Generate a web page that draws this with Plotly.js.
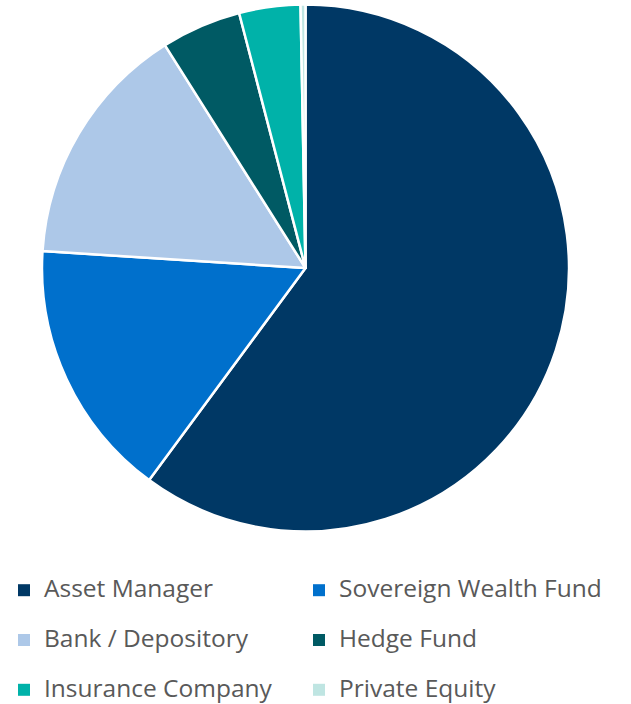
<!DOCTYPE html>
<html>
<head>
<meta charset="utf-8">
<script src="https://cdn.plot.ly/plotly-3.0.1.min.js"></script>
<style>html,body{margin:0;padding:0;background:#fff;}#chart{width:631px;height:704px;}</style>
</head>
<body>
<div id="chart"></div>
<script>
const categories = ["Asset Manager", "Sovereign Wealth Fund", "Bank / Depository", "Hedge Fund", "Insurance Company", "Private Equity"];
const shares = [60.05, 15.9, 15.0, 4.9, 3.75, 0.3];
const sliceColors = ["#003865", "#0070CC", "#ADC8E8", "#005A64", "#00B2A9", "#BFE5E2"];

// legend labels: larger text in a span; first two rows get an empty second line to space rows
const legendLabels = categories.map((c, i) =>
  '<span style="font-size:24.5px">' + c + '</span>' + (i < 4 ? '<br>&nbsp;' : ''));

const trace = {
  type: "pie",
  labels: legendLabels,
  values: shares,
  sort: false,
  direction: "clockwise",
  rotation: 0,
  textinfo: "none",
  hoverinfo: "none",
  marker: { colors: sliceColors, line: { color: "#ffffff", width: 2.5 } },
  domain: { x: [42/631, 569/631], y: [172.5/704, 699.5/704] }
};

const layout = {
  width: 631,
  height: 704,
  margin: { l: 0, r: 0, t: 0, b: 0, autoexpand: false },
  paper_bgcolor: "#ffffff",
  showlegend: true,
  legend: {
    orientation: "h",
    xref: "container",
    yref: "container",
    x: 4/631,
    xanchor: "left",
    y: 1 - 572/704,
    yanchor: "top",
    entrywidth: 250,
    entrywidthmode: "pixels",
    valign: "top",
    font: { family: "'Open Sans', sans-serif", size: 18, color: "#595959" },
    tracegroupgap: 0,
    itemwidth: 30,
    bgcolor: "rgba(0,0,0,0)"
  }
};

Plotly.newPlot("chart", [trace], layout, { displayModeBar: false, staticPlot: true }).then(function (gd) {
  // let the last legend column extend past the fixed entry width instead of being clipped
  gd.querySelectorAll(".legend .scrollbox").forEach(function (el) { el.removeAttribute("clip-path"); });
  // legend swatches without the white slice outline, so they show at full size
  gd.querySelectorAll(".legend path.legendpie").forEach(function (p) { p.style.strokeWidth = "0px"; });
});
</script>
</body>
</html>
